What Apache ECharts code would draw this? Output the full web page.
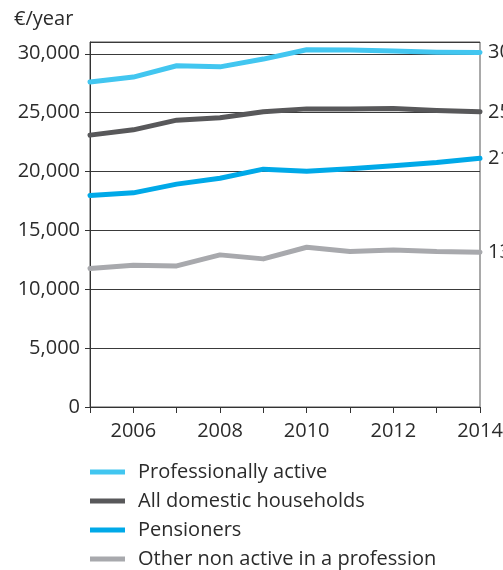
<!DOCTYPE html>
<html>
<head>
<meta charset="utf-8">
<script src="https://cdn.jsdelivr.net/npm/echarts@6/dist/echarts.min.js"></script>
<style>
  html, body { margin: 0; padding: 0; background: #fff; }
  #chart { width: 503px; height: 570px; }
</style>
</head>
<body>
<div id="chart"></div>
<script>
// Household income per year by household type, 2005–2014
const years = ['2005', '2006', '2007', '2008', '2009', '2010', '2011', '2012', '2013', '2014'];
const professionallyActive = [27600, 28020, 28980, 28890, 29550, 30340, 30310, 30230, 30140, 30110];
const allDomesticHouseholds = [23090, 23540, 24360, 24560, 25070, 25320, 25320, 25350, 25180, 25070];
const pensioners = [17960, 18190, 18930, 19430, 20200, 20030, 20230, 20480, 20760, 21130];
const otherNonActive = [11760, 12040, 11980, 12920, 12580, 13570, 13200, 13340, 13200, 13150];
const seriesNames = ['Professionally active', 'All domestic households', 'Pensioners', 'Other non active in a profession'];
const unitLabel = '€/year';

const FONT = '"Open Sans", "DejaVu Sans", sans-serif';
const TEXT = '#2b2b2b';
const FS = 20;
const fmt = v => v.toLocaleString('en-US');

const colors = ['#42c6f0', '#58585a', '#00a9e8', '#a8a9ad'];
const values = [professionallyActive, allDomesticHouseholds, pensioners, otherNonActive];

const chart = echarts.init(document.getElementById('chart'), null, { renderer: 'canvas' });

chart.setOption({
  animation: false,
  color: colors,
  graphic: [{
    type: 'text',
    left: 14,
    top: 9,
    style: { text: unitLabel, font: FS + 'px ' + FONT, fill: TEXT }
  }],
  grid: {
    left: 90, right: 23, top: 42, bottom: 163,
    outerBoundsMode: 'none',
    containLabel: false,
    show: true, borderColor: '#555', borderWidth: 1, backgroundColor: 'transparent'
  },
  legend: {
    orient: 'vertical',
    left: 90,
    top: 462,
    height: 108,
    padding: 0,
    itemWidth: 35,
    itemHeight: 5,
    itemGap: 9,
    icon: 'rect',
    data: seriesNames,
    textStyle: { fontFamily: FONT, fontSize: FS, color: TEXT, padding: [0, 0, 0, 8] }
  },
  xAxis: {
    type: 'category',
    data: years,
    boundaryGap: false,
    axisLine: { lineStyle: { color: '#333', width: 1 } },
    axisTick: { show: true, length: 6, interval: 0, lineStyle: { color: '#333' } },
    axisLabel: {
      interval: (i, v) => Number(v) % 2 === 0,
      fontFamily: FONT, fontSize: FS, color: TEXT, margin: 14
    }
  },
  yAxis: {
    type: 'value',
    min: 0,
    max: 31000,
    interval: 5000,
    axisLine: { show: true, lineStyle: { color: '#333', width: 1 } },
    axisTick: { show: true, length: 5, lineStyle: { color: '#333' } },
    axisLabel: {
      showMaxLabel: false,
      formatter: v => (v % 5000 === 0 ? fmt(v) : ''),
      fontFamily: FONT, fontSize: FS, color: TEXT, margin: 10
    },
    splitLine: { show: true, lineStyle: { color: '#3a3a3a', width: 1 } }
  },
  series: seriesNames.map((name, i) => ({
    name,
    type: 'line',
    data: values[i],
    symbol: 'none',
    lineStyle: { width: 5, color: colors[i], cap: 'round', join: 'round' },
    endLabel: {
      show: true,
      formatter: p => fmt(p.value),
      fontFamily: FONT, fontSize: FS, color: TEXT, distance: 8
    },
    z: 3 + i
  }))
});
</script>
</body>
</html>
